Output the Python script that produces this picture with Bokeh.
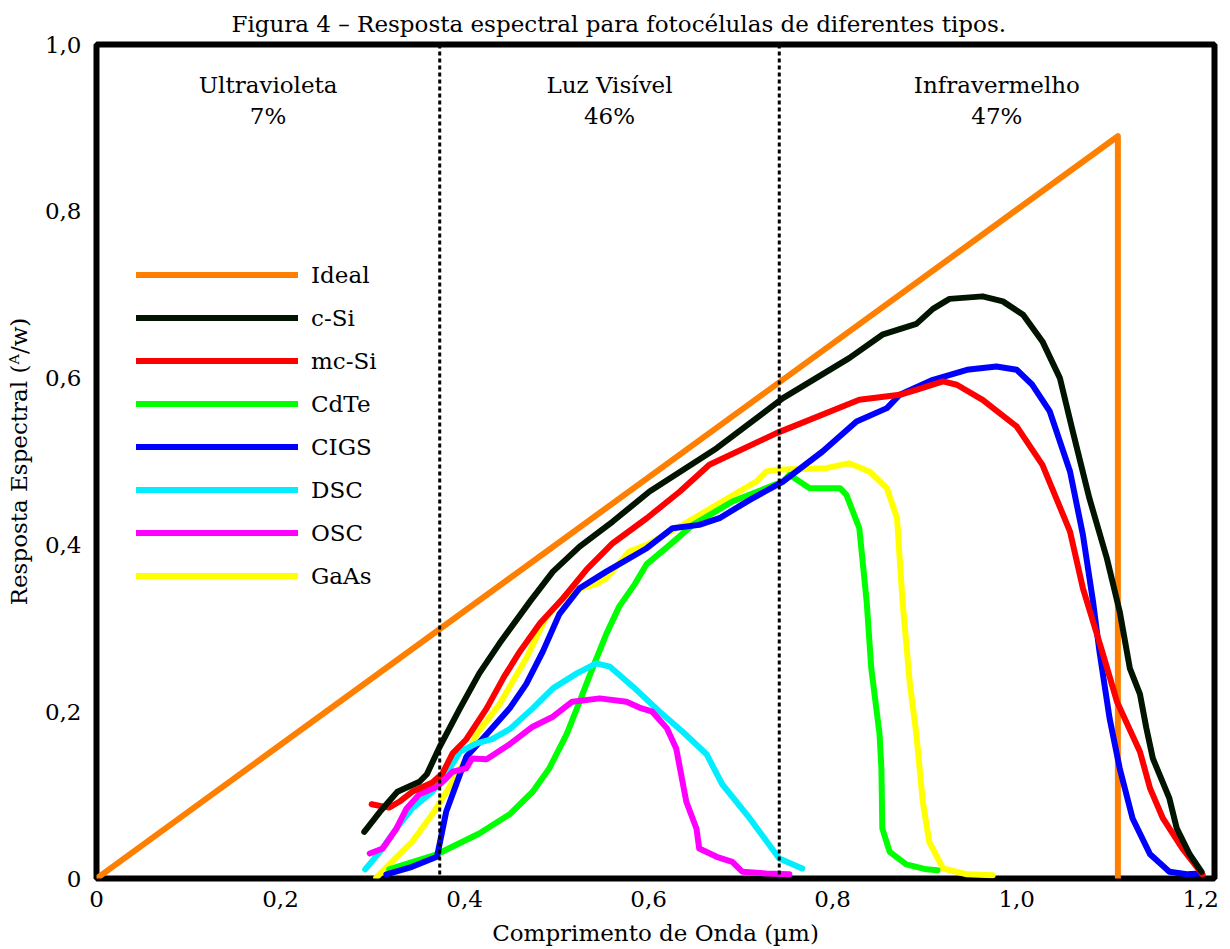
from bokeh.plotting import figure
from bokeh.models import (Range1d, FixedTicker, CustomJSTickFormatter, Legend,
                          LegendItem, Label, Span)
from bokeh.embed import file_html
from bokeh.resources import INLINE

# ---------------- data ----------------
ideal_x = [0.0, 1.11, 1.11]
ideal_y = [0.0, 0.89, 0.0]

csi_x = [0.291, 0.308, 0.327, 0.351, 0.359, 0.373, 0.395, 0.416, 0.438, 0.471, 0.496,
         0.525, 0.561, 0.601, 0.674, 0.746, 0.818, 0.854, 0.891, 0.909, 0.927, 0.963,
         0.985, 1.007, 1.028, 1.047, 1.061, 1.079, 1.098, 1.112, 1.123, 1.134, 1.141,
         1.148, 1.166, 1.174, 1.188, 1.201]
csi_y = [0.056, 0.080, 0.104, 0.116, 0.125, 0.158, 0.204, 0.246, 0.282, 0.332, 0.368,
         0.398, 0.428, 0.464, 0.516, 0.576, 0.624, 0.652, 0.665, 0.683, 0.695, 0.698,
         0.692, 0.676, 0.644, 0.600, 0.536, 0.456, 0.384, 0.320, 0.252, 0.221, 0.180,
         0.144, 0.096, 0.060, 0.029, 0.008]

mcsi_x = [0.299, 0.318, 0.329, 0.343, 0.365, 0.376, 0.387, 0.402, 0.424, 0.443, 0.460,
          0.482, 0.507, 0.533, 0.561, 0.598, 0.634, 0.666, 0.739, 0.829, 0.873, 0.891,
          0.920, 0.935, 0.963, 1.000, 1.028, 1.058, 1.072, 1.093, 1.109, 1.134, 1.145,
          1.159, 1.180, 1.202]
mcsi_y = [0.089, 0.085, 0.092, 0.104, 0.115, 0.126, 0.150, 0.167, 0.204, 0.242, 0.272,
          0.306, 0.336, 0.371, 0.402, 0.432, 0.464, 0.496, 0.534, 0.574, 0.580, 0.586,
          0.596, 0.592, 0.574, 0.542, 0.496, 0.416, 0.348, 0.272, 0.212, 0.152, 0.108,
          0.072, 0.036, 0.005]

cdte_x = [0.318, 0.370, 0.416, 0.449, 0.474, 0.492, 0.511, 0.525, 0.539, 0.554, 0.568,
          0.585, 0.598, 0.623, 0.648, 0.691, 0.746, 0.753, 0.775, 0.808, 0.815, 0.829,
          0.837, 0.842, 0.851, 0.853, 0.854, 0.862, 0.880, 0.902, 0.914]
cdte_y = [0.011, 0.029, 0.054, 0.077, 0.104, 0.132, 0.173, 0.212, 0.252, 0.293, 0.326,
          0.353, 0.377, 0.400, 0.424, 0.452, 0.476, 0.484, 0.468, 0.468, 0.460, 0.420,
          0.332, 0.252, 0.173, 0.132, 0.060, 0.032, 0.017, 0.011, 0.010]

cigs_x = [0.315, 0.343, 0.370, 0.375, 0.380, 0.387, 0.402, 0.424, 0.449, 0.467, 0.485,
          0.503, 0.525, 0.554, 0.598, 0.626, 0.655, 0.677, 0.710, 0.746, 0.789, 0.826,
          0.859, 0.873, 0.909, 0.946, 0.978, 1.000, 1.017, 1.036, 1.058, 1.072, 1.083,
          1.090, 1.101, 1.112, 1.126, 1.145, 1.166, 1.185, 1.199]
cigs_y = [0.005, 0.014, 0.026, 0.053, 0.080, 0.101, 0.146, 0.173, 0.204, 0.233, 0.272,
          0.317, 0.348, 0.368, 0.396, 0.420, 0.424, 0.432, 0.454, 0.476, 0.512, 0.548,
          0.564, 0.580, 0.598, 0.610, 0.614, 0.610, 0.592, 0.560, 0.488, 0.412, 0.332,
          0.272, 0.192, 0.132, 0.072, 0.029, 0.008, 0.005, 0.006]

dsc_x = [0.292, 0.308, 0.326, 0.343, 0.365, 0.380, 0.395, 0.413, 0.430, 0.449, 0.474,
         0.496, 0.522, 0.543, 0.558, 0.583, 0.612, 0.637, 0.663, 0.680, 0.710, 0.742,
         0.767]
dsc_y = [0.011, 0.032, 0.060, 0.084, 0.104, 0.125, 0.152, 0.162, 0.167, 0.179, 0.204,
         0.228, 0.246, 0.258, 0.254, 0.230, 0.200, 0.176, 0.149, 0.113, 0.072, 0.024,
         0.012]

osc_x = [0.297, 0.311, 0.326, 0.337, 0.351, 0.370, 0.380, 0.387, 0.402, 0.408, 0.424,
         0.449, 0.474, 0.496, 0.517, 0.547, 0.576, 0.590, 0.604, 0.620, 0.630, 0.641,
         0.652, 0.655, 0.674, 0.691, 0.702, 0.728, 0.753]
osc_y = [0.030, 0.036, 0.060, 0.084, 0.101, 0.110, 0.120, 0.128, 0.132, 0.144, 0.143,
         0.161, 0.182, 0.194, 0.212, 0.216, 0.212, 0.205, 0.200, 0.180, 0.156, 0.092,
         0.060, 0.036, 0.026, 0.020, 0.008, 0.006, 0.005]

gaas_x = [0.304, 0.329, 0.343, 0.365, 0.376, 0.402, 0.413, 0.438, 0.467, 0.489, 0.514,
          0.543, 0.554, 0.579, 0.598, 0.637, 0.674, 0.717, 0.728, 0.739, 0.793, 0.818,
          0.840, 0.859, 0.870, 0.876, 0.884, 0.891, 0.898, 0.905, 0.920, 0.946, 0.974]
gaas_y = [0.001, 0.029, 0.044, 0.077, 0.096, 0.144, 0.173, 0.209, 0.264, 0.314, 0.344,
          0.353, 0.360, 0.392, 0.400, 0.424, 0.448, 0.476, 0.488, 0.490, 0.492, 0.498,
          0.488, 0.468, 0.432, 0.332, 0.233, 0.173, 0.092, 0.044, 0.012, 0.005, 0.004]

region_bounds = [0.0, 0.373, 0.742, 1.215]
region_names = ["Ultravioleta", "Luz Visível", "Infravermelho"]
region_pcts = ["7%", "46%", "47%"]

x_ticks = [0.0, 0.2, 0.4, 0.6, 0.8, 1.0, 1.2]
y_ticks = [0.0, 0.2, 0.4, 0.6, 0.8, 1.0]

title_text = "Figura 4 – Resposta espectral para fotocélulas de diferentes tipos."
x_label = "Comprimento de Onda (µm)"
y_label = "Resposta Espectral (ᴬ/ᴡ)"

FONT = "DejaVu Serif"
FS = "23px"

p = figure(width=1230, height=949, output_backend="svg", toolbar_location=None,
           x_range=Range1d(0, region_bounds[-1]), y_range=Range1d(0, 1.0),
           min_border_left=96, min_border_right=16, min_border_top=43,
           min_border_bottom=71)
p.grid.visible = False
p.outline_line_color = "black"
p.outline_line_width = 6
p.background_fill_color = "white"
p.border_fill_color = "white"

p.title.text = title_text
p.title.align = "left"
p.title.offset = 135
p.title.text_font = FONT
p.title.text_font_size = FS
p.title.text_font_style = "normal"
p.title.text_color = "black"
p.title.vertical_align = "bottom"
p.title.standoff = 16

fmt = CustomJSTickFormatter(code="""
    if (Math.abs(tick) < 1e-9) { return "0"; }
    return tick.toFixed(1).replace(".", ",");
""")
for ax, ticks in ((p.xaxis[0], x_ticks), (p.yaxis[0], y_ticks)):
    ax.ticker = FixedTicker(ticks=ticks)
    ax.formatter = fmt
    ax.axis_line_color = None
    ax.major_tick_line_color = None
    ax.minor_tick_line_color = None
    ax.major_label_text_font = FONT
    ax.major_label_text_font_size = FS
    ax.major_label_text_color = "black"
    ax.axis_label_text_font = FONT
    ax.axis_label_text_font_size = FS
    ax.axis_label_text_font_style = "normal"
    ax.axis_label_text_color = "black"
p.xaxis.axis_label = x_label
p.yaxis.axis_label = y_label
p.xaxis.major_label_standoff = 6
p.yaxis.major_label_standoff = 9
p.xaxis.axis_label_standoff = 10
p.yaxis.axis_label_standoff = 10

# region separators
for b in region_bounds[1:-1]:
    p.add_layout(Span(location=b, dimension="height", line_color="black",
                      line_width=3, line_dash="4 3"))

# region labels
for i, (nm, pc) in enumerate(zip(region_names, region_pcts)):
    cx = (region_bounds[i] + region_bounds[i + 1]) / 2
    p.add_layout(Label(x=cx, y=0.951, text=nm, text_align="center",
                       text_baseline="middle", text_font=FONT, text_font_size=FS,
                       text_color="black"))
    p.add_layout(Label(x=cx, y=0.914, text=pc, text_align="center",
                       text_baseline="middle", text_font=FONT, text_font_size=FS,
                       text_color="black"))

series = [
    ("Ideal", ideal_x, ideal_y, "#FF7F00"),
    ("c-Si", csi_x, csi_y, "#001400"),
    ("mc-Si", mcsi_x, mcsi_y, "#FF0000"),
    ("CdTe", cdte_x, cdte_y, "#00FF00"),
    ("CIGS", cigs_x, cigs_y, "#0000FF"),
    ("DSC", dsc_x, dsc_y, "#00EEFF"),
    ("OSC", osc_x, osc_y, "#FF00FF"),
    ("GaAs", gaas_x, gaas_y, "#FFFF00"),
]
draw_order = ["Ideal", "GaAs", "CdTe", "CIGS", "DSC", "OSC", "mc-Si", "c-Si"]
rends = {}
lookup = {s[0]: s for s in series}
for name in draw_order:
    _, xs, ys, col = lookup[name]
    rends[name] = p.line(xs, ys, line_color=col, line_width=6,
                         line_join="round", line_cap="round")

legend = Legend(items=[LegendItem(label=s[0], renderers=[rends[s[0]]]) for s in series],
                location=(40, 281), glyph_width=162, glyph_height=43, spacing=0,
                padding=0, margin=0, label_standoff=13, label_text_font=FONT,
                label_text_font_size=FS, label_text_color="black",
                border_line_alpha=0, background_fill_alpha=0, label_height=43)
p.add_layout(legend)

open("out.html", "w").write(file_html(p, INLINE))
